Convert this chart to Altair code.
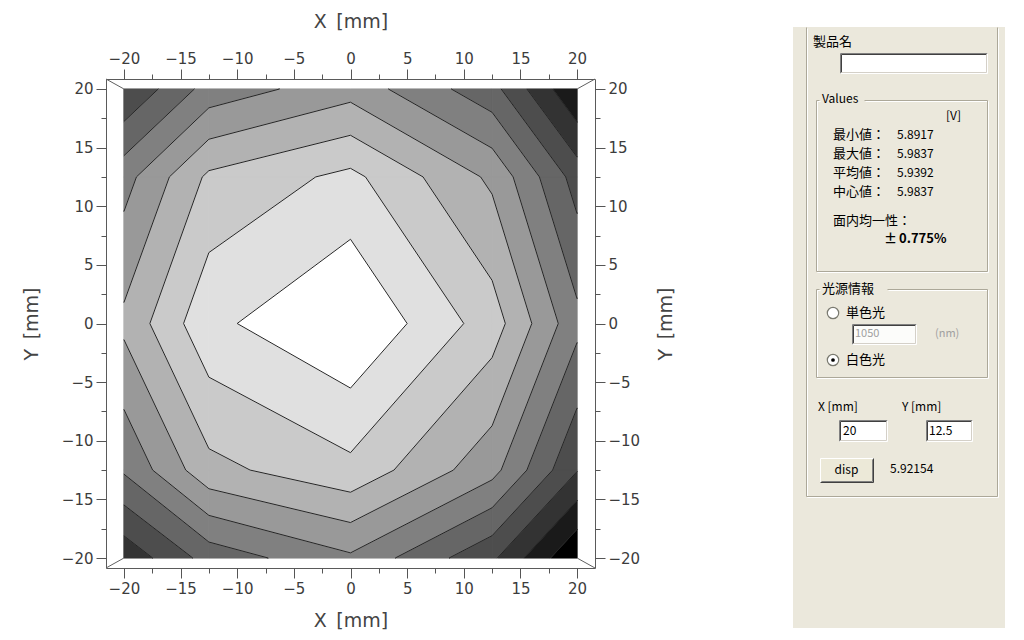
import math
import numpy as np
import pandas as pd
import altair as alt

# ---------------- measured data (5 x 5 grid, volts) ----------------
grid_x = [-20.0, -12.5, 0.0, 12.5, 20.0]   # mm
grid_y = [-20.0, -12.5, 0.0, 12.5, 20.0]   # mm
volt_y_m20 = [5.91077, 5.92850, 5.94046, 5.91846, 5.89170]
volt_y_m125 = [5.93461, 5.95610, 5.96472, 5.94481, 5.91721]
volt_y_0 = [5.95217, 5.97325, 5.98370, 5.96279, 5.93594]
volt_y_p125 = [5.93870, 5.96028, 5.96915, 5.94857, 5.92154]
volt_y_p20 = [5.91721, 5.93686, 5.94690, 5.92808, 5.90048]

v_min, v_max = 5.8917, 5.9837
n_bands = 11
band_gray = [0, 26, 51, 77, 102, 128, 153, 178, 202, 224, 255]

major_ticks = [-20, -15, -10, -5, 0, 5, 10, 15, 20]
minor_ticks = [-17.5, -12.5, -7.5, -2.5, 2.5, 7.5, 12.5, 17.5]

product_label = "製品名"
values_title = "Values"
unit_label = "[V]"
stat_names = ["最小値：", "最大値：", "平均値：", "中心値："]
stat_values = ["5.8917", "5.9837", "5.9392", "5.9837"]
uniformity_label = "面内均一性："
uniformity_pm = "±"
uniformity_value = "0.775%"
light_title = "光源情報"
radio_labels = ["単色光", "白色光"]
wavelength = "1050"
wavelength_unit = "(nm)"
pos_labels = ["X [mm]", "Y [mm]"]
pos_values = ["20", "12.5"]
button_label = "disp"
disp_value = "5.92154"

# ---------------- isobands (marching squares) ----------------
Z = np.array([volt_y_m20, volt_y_m125, volt_y_0, volt_y_p125, volt_y_p20])
step = (v_max - v_min) / n_bands
levels = [v_min + k * step for k in range(1, n_bands)]
bounds = [-math.inf] + levels + [math.inf]

poly_rows, seg_rows = [], []
pid = 0
for j in range(len(grid_y) - 1):
    for i in range(len(grid_x) - 1):
        cs = [(grid_x[i], grid_y[j], Z[j, i]), (grid_x[i + 1], grid_y[j], Z[j, i + 1]),
              (grid_x[i + 1], grid_y[j + 1], Z[j + 1, i + 1]), (grid_x[i], grid_y[j + 1], Z[j + 1, i])]
        for b in range(n_bands):
            lo, hi = bounds[b], bounds[b + 1]
            pts = []
            for k in range(4):
                xa, ya, va = cs[k]
                xb, yb, vb = cs[(k + 1) % 4]
                if lo <= va < hi:
                    pts.append((xa, ya))
                cr = []
                for t in (lo, hi):
                    if math.isfinite(t) and (va - t) * (vb - t) < 0:
                        f = (t - va) / (vb - va)
                        cr.append((f, xa + f * (xb - xa), ya + f * (yb - ya)))
                cr.sort()
                pts += [(c[1], c[2]) for c in cr]
            if len(pts) >= 3:
                pts.append(pts[0])
                g = band_gray[b]
                col = "#%02x%02x%02x" % (g, g, g)
                for n, (px, py) in enumerate(pts):
                    poly_rows.append({"pid": pid, "i": n, "x": px, "y": py, "col": col, "band": b})
                pid += 1
        for t in levels:
            cr = []
            for k in range(4):
                xa, ya, va = cs[k]
                xb, yb, vb = cs[(k + 1) % 4]
                if (va - t) * (vb - t) < 0:
                    f = (t - va) / (vb - va)
                    cr.append((xa + f * (xb - xa), ya + f * (yb - ya)))
            for s in range(0, len(cr) - 1, 2):
                seg_rows.append({"x": cr[s][0], "y": cr[s][1], "x2": cr[s + 1][0], "y2": cr[s + 1][1]})

poly_df = pd.DataFrame(poly_rows)
seg_df = pd.DataFrame(seg_rows)

# ---------------- frame / scales ----------------
W, H = 489, 489
XD = [-21.58, 21.58]
YD = [-20.85, 20.85]
xsc = alt.Scale(domain=XD, nice=False, zero=False)
ysc = alt.Scale(domain=YD, nice=False, zero=False)

corner_df = pd.DataFrame({
    "x": [XD[0], XD[1], XD[0], XD[1]],
    "y": [YD[1], YD[1], YD[0], YD[0]],
    "x2": [grid_x[0], grid_x[-1], grid_x[0], grid_x[-1]],
    "y2": [grid_y[-1], grid_y[-1], grid_y[0], grid_y[0]],
})

TITLE_X = "X\u2002[mm]"
TITLE_Y = "Y\u2002[mm]"


def major(orient, title, pad, angle=None):
    kw = dict(orient=orient, values=major_ticks, title=title, tickSize=10, labelPadding=3,
              labelOverlap=False, labelFlush=False, titlePadding=pad)
    if angle is not None:
        kw["titleAngle"] = angle
    return alt.Axis(**kw)


def minor(orient):
    return alt.Axis(orient=orient, values=minor_ticks, tickSize=5, labels=False, title=None)


bands = alt.Chart(poly_df).mark_line(strokeWidth=1, strokeJoin="round").encode(
    x=alt.X("x:Q", scale=xsc, axis=major("bottom", TITLE_X, 15)),
    y=alt.Y("y:Q", scale=ysc, axis=major("left", TITLE_Y, 20)),
    detail="pid:N",
    order="i:Q",
    fill=alt.Fill("col:N", scale=None),
    stroke=alt.Stroke("col:N", scale=None),
)

contours = alt.Chart(seg_df).mark_rule(color="#262626", strokeWidth=1).encode(
    x=alt.X("x:Q", scale=xsc, axis=major("top", TITLE_X, 20)),
    y=alt.Y("y:Q", scale=ysc, axis=major("right", TITLE_Y, 36, 270)),
    x2="x2:Q",
    y2="y2:Q",
)

diag = alt.Chart(corner_df).mark_rule(color="#606060", strokeWidth=1).encode(
    x=alt.X("x:Q", scale=xsc, axis=minor("bottom")),
    y=alt.Y("y:Q", scale=ysc, axis=minor("left")),
    x2="x2:Q",
    y2="y2:Q",
)

ghost = alt.Chart(corner_df).mark_point(opacity=0).encode(
    x=alt.X("x:Q", scale=xsc, axis=minor("top")),
    y=alt.Y("y:Q", scale=ysc, axis=minor("right")),
)

plot = alt.layer(bands, contours, diag, ghost).resolve_axis(x="independent", y="independent")

# ---------------- side panel (page pixel layout) ----------------
OX, OY = 106, 79
pxs = alt.Scale(domain=[OX, OX + W], nice=False, zero=False)
pys = alt.Scale(domain=[OY, OY + H], nice=False, zero=False, reverse=True)
BG = "#ebe8dc"

rects = [
    (793, 27, 1005, 628, BG),
    (840, 53, 987, 73, "#ffffff"),
    (852, 324, 916, 344, "#fcfcfa"),
    (839, 420, 887, 441, "#ffffff"),
    (926, 420, 972, 441, "#ffffff"),
    (820, 458, 873, 482, "#ece9d8"),
]
rect_df = pd.DataFrame(rects, columns=["x", "y", "x2", "y2", "fill"])

lines = []


def etched(x1, y1, x2, y2):
    lines.append((x1 + 1.5, y1 + 1.5, x2 + 1.5, y2 + 1.5, "#ffffff"))
    lines.append((x1 + 0.5, y1 + 0.5, x2 + 0.5, y2 + 0.5, "#aca899"))


# outer group box
etched(806, 27, 806, 496)
etched(997, 27, 997, 496)
etched(806, 496, 997, 496)
# Values box
for seg in [(816, 100, 819, 100), (864, 100, 987, 100), (816, 100, 816, 271),
            (987, 100, 987, 271), (816, 271, 987, 271)]:
    etched(*seg)
# light source box
for seg in [(816, 289, 819, 289), (887, 289, 987, 289), (816, 289, 816, 377),
            (987, 289, 987, 377), (816, 377, 987, 377)]:
    etched(*seg)


def sunken(x1, y1, x2, y2):
    lines.extend([
        (x1 + 0.5, y1 + 0.5, x2 + 0.5, y1 + 0.5, "#808080"),
        (x1 + 0.5, y1 + 0.5, x1 + 0.5, y2 + 0.5, "#808080"),
        (x1 + 1.5, y1 + 1.5, x2 - 0.5, y1 + 1.5, "#404040"),
        (x1 + 1.5, y1 + 1.5, x1 + 1.5, y2 - 0.5, "#404040"),
        (x1 + 0.5, y2 + 0.5, x2 + 0.5, y2 + 0.5, "#ffffff"),
        (x2 + 0.5, y1 + 0.5, x2 + 0.5, y2 + 0.5, "#ffffff"),
        (x1 + 1.5, y2 - 0.5, x2 - 0.5, y2 - 0.5, "#d4d0c8"),
        (x2 - 0.5, y1 + 1.5, x2 - 0.5, y2 - 0.5, "#d4d0c8"),
    ])


for r in rects[1:5]:
    sunken(*r[:4])
bx1, by1, bx2, by2 = rects[5][:4]
lines.extend([
    (bx1 + 0.5, by1 + 0.5, bx2 + 0.5, by1 + 0.5, "#ffffff"),
    (bx1 + 0.5, by1 + 0.5, bx1 + 0.5, by2 + 0.5, "#ffffff"),
    (bx1 + 0.5, by2 + 0.5, bx2 + 0.5, by2 + 0.5, "#404040"),
    (bx2 + 0.5, by1 + 0.5, bx2 + 0.5, by2 + 0.5, "#404040"),
    (bx1 + 1.5, by2 - 0.5, bx2 - 0.5, by2 - 0.5, "#808080"),
    (bx2 - 0.5, by1 + 1.5, bx2 - 0.5, by2 - 0.5, "#808080"),
])
line_df = pd.DataFrame(lines, columns=["x", "y", "x2", "y2", "c"])

radio_df = pd.DataFrame({"x": [833, 833], "y": [313, 360]})
dot_df = pd.DataFrame({"x": [833], "y": [360]})

texts = [
    (813, 42, product_label, 13, "#000000"),
    (822, 99, values_title, 12, "#000000"),
    (946, 116, unit_label, 12, "#000000"),
    (833, 221, uniformity_label, 13, "#000000"),
    (822, 289, light_title, 13, "#000000"),
    (846, 313, radio_labels[0], 13, "#000000"),
    (855, 334, wavelength, 11, "#a0a0a0"),
    (935, 334, wavelength_unit, 11, "#a0a0a0"),
    (846, 360, radio_labels[1], 13, "#000000"),
    (818, 407, pos_labels[0], 12, "#000000"),
    (902, 407, pos_labels[1], 12, "#000000"),
    (843, 431, pos_values[0], 12, "#000000"),
    (929, 431, pos_values[1], 12, "#000000"),
    (890, 469, disp_value, 12, "#000000"),
]
for k, (nm, val) in enumerate(zip(stat_names, stat_values)):
    yy = 135 + 19 * k
    texts.append((833, yy, nm, 13, "#000000"))
    texts.append((897, yy, val, 12, "#000000"))
text_df = pd.DataFrame(texts, columns=["x", "y", "t", "s", "c"])
bold_df = pd.DataFrame({"x": [884, 899], "y": [239, 239], "t": [uniformity_pm, uniformity_value]})
btn_df = pd.DataFrame({"x": [(bx1 + bx2) / 2], "y": [(by1 + by2) / 2], "t": [button_label]})

PX = lambda f="x": alt.X(f"{f}:Q", scale=pxs, axis=None)
PY = lambda f="y": alt.Y(f"{f}:Q", scale=pys, axis=None)

p_rect = alt.Chart(rect_df).mark_rect(strokeWidth=0).encode(
    x=PX(), y=PY(), x2="x2:Q", y2="y2:Q", fill=alt.Fill("fill:N", scale=None))
p_line = alt.Chart(line_df).mark_rule(strokeWidth=1).encode(
    x=PX(), y=PY(), x2="x2:Q", y2="y2:Q", color=alt.Color("c:N", scale=None))
p_radio = alt.Chart(radio_df).mark_point(shape="circle", size=130, filled=True, fill="#ffffff",
                                         stroke="#7a7a70", strokeWidth=1.2, opacity=1).encode(x=PX(), y=PY())
p_dot = alt.Chart(dot_df).mark_point(shape="circle", size=14, filled=True, color="#000000",
                                     opacity=1).encode(x=PX(), y=PY())
p_text = alt.Chart(text_df).mark_text(align="left", baseline="middle", font="Noto Sans CJK JP").encode(
    x=PX(), y=PY(), text="t:N", size=alt.Size("s:Q", scale=None), color=alt.Color("c:N", scale=None))
p_bold = alt.Chart(bold_df).mark_text(align="left", baseline="middle", font="Noto Sans CJK JP",
                                      fontSize=13, fontWeight="bold", color="#000000").encode(
    x=PX(), y=PY(), text="t:N")
p_btn = alt.Chart(btn_df).mark_text(align="center", baseline="middle", font="Noto Sans CJK JP",
                                    fontSize=12, color="#000000").encode(x=PX(), y=PY(), text="t:N")

panel = alt.layer(p_rect, p_line, p_radio, p_dot, p_text, p_bold, p_btn)

chart = alt.layer(plot, panel).resolve_scale(x="independent", y="independent").properties(
    width=W, height=H,
    padding={"left": OX - 8, "top": OY - 8, "right": 1008 - (OX - 8) - W, "bottom": 624 - (OY - 8) - H},
    autosize=alt.AutoSizeParams(type="none"),
    background="#ffffff",
).configure_view(stroke="#5a5a5a", strokeWidth=1).configure_axis(
    domain=False, grid=False, tickColor="#555555", tickWidth=1,
    labelFont="DejaVu Sans", labelFontSize=15, labelColor="#3c3c3c",
    titleFont="DejaVu Sans", titleFontSize=19, titleFontWeight="normal", titleColor="#444444",
)

chart.save("out.html", embed_options={"renderer": "svg", "actions": False})
